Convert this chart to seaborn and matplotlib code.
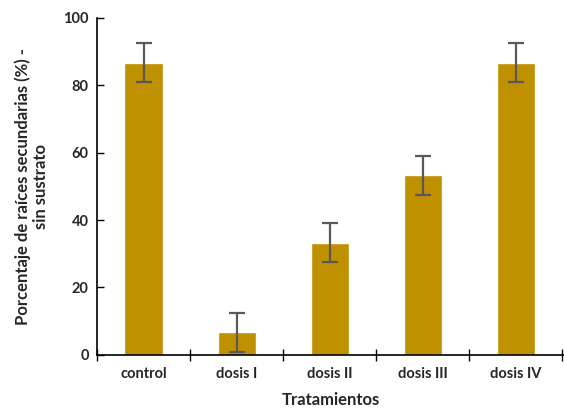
import matplotlib
matplotlib.use("Agg")
import matplotlib.pyplot as plt
import seaborn as sns
import pandas as pd
import numpy as np

tratamientos = ["control", "dosis I", "dosis II", "dosis III", "dosis IV"]
porcentaje = [86.7, 6.7, 33.3, 53.3, 86.7]
error = [5.8, 5.8, 5.8, 5.8, 5.8]

df = pd.DataFrame({"Tratamientos": tratamientos, "porcentaje": porcentaje})

sns.set_style("white")
plt.rcParams["font.family"] = ["Lato", "DejaVu Sans"]

fig = plt.figure(figsize=(5.64, 4.15), dpi=100)
ax = fig.add_axes([0.172, 0.145, 0.83, 0.812])

sns.barplot(data=df, x="Tratamientos", y="porcentaje", color="#BF9000",
            saturation=1, width=0.41, errorbar=None, ax=ax)
ax.errorbar(np.arange(len(tratamientos)), porcentaje, yerr=error, fmt="none",
            ecolor="#595959", elinewidth=1.6, capsize=6, capthick=1.6)

ax.set_ylim(0, 100)
ax.set_xlim(-0.5, 4.53)
ax.set_yticks([0, 20, 40, 60, 80, 100])
ax.tick_params(axis="y", left=True, direction="in", length=5, width=1,
               color="black", labelsize=10.5, pad=6)
ax.tick_params(axis="x", which="major", length=0, labelsize=10.5, pad=9)
ax.set_xticks(np.arange(-0.5, 4.6, 1), minor=True)
ax.tick_params(axis="x", which="minor", bottom=True, direction="inout",
               length=9, width=1, color="black")
for lab in ax.get_xticklabels() + ax.get_yticklabels():
    lab.set_fontweight("bold")

for s in ["top", "right"]:
    ax.spines[s].set_visible(False)
for s in ["left", "bottom"]:
    ax.spines[s].set_color("black")
    ax.spines[s].set_linewidth(1.2)

ax.set_xlabel("Tratamientos", fontsize=12, fontweight="bold", labelpad=8)
ax.set_ylabel("Porcentaje de raíces secundarias (%) -\nsin sustrato",
              fontsize=12, fontweight="bold", labelpad=10)

plt.savefig("out.png", dpi=100)
